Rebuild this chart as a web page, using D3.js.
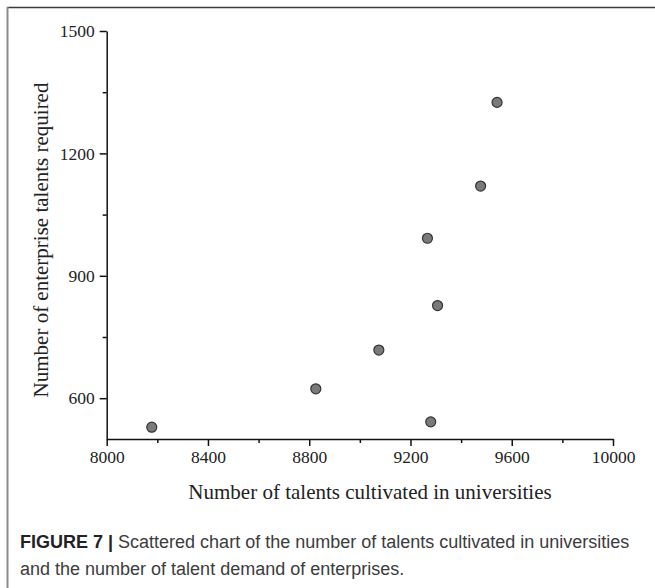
<!DOCTYPE html>
<html>
<head>
<meta charset="utf-8">
<script src="https://cdn.jsdelivr.net/npm/d3@7"></script>
<style>
  html, body { margin: 0; padding: 0; background: #fff; }
  svg { display: block; }
</style>
</head>
<body>
<svg id="chart" width="655" height="588"></svg>
<script>
// ---- data ----
const talentsCultivated = [8178, 8826, 9075, 9267, 9307, 9280, 9477, 9542];
const talentsRequired   = [529, 623, 718, 992, 827, 542, 1120, 1325];
const xTickValues = [8000, 8400, 8800, 9200, 9600, 10000];
const xMinorTicks = [8200, 8600, 9000, 9400, 9800];
const yTickValues = [600, 900, 1200, 1500];
const yMinorTicks = [750, 1050, 1350];
const xTitle = "Number of talents cultivated in universities";
const yTitle = "Number of enterprise talents required";
const captionBold = "FIGURE 7 |";
const captionLine1 = " Scattered chart of the number of talents cultivated in universities";
const captionLine2 = "and the number of talent demand of enterprises.";

const svg = d3.select("#chart");

// frame
svg.append("line").attr("x1", 7).attr("x2", 655).attr("y1", 7.5).attr("y2", 7.5)
  .attr("stroke", "#3a3a3a").attr("stroke-width", 1.5);
svg.append("line").attr("x1", 7.5).attr("x2", 7.5).attr("y1", 7).attr("y2", 588)
  .attr("stroke", "#8c8c8c").attr("stroke-width", 2);

const x = d3.scaleLinear().domain([8000, 10000]).range([106.7, 613]);
const y = d3.scaleLinear().domain([500, 1500]).range([439, 31]);

const serif = "'Liberation Serif', 'Times New Roman', serif";

// x axis
const gx = svg.append("g").attr("transform", `translate(0,${y(500)})`);
gx.call(d3.axisBottom(x).tickValues(xTickValues).tickSize(7).tickSizeOuter(0).tickPadding(5)
  .tickFormat(d3.format("d")));
const gxm = svg.append("g").attr("transform", `translate(0,${y(500)})`);
gxm.call(d3.axisBottom(x).tickValues(xMinorTicks).tickSize(4).tickSizeOuter(0).tickFormat(""));
gxm.select(".domain").remove();

// y axis
const gy = svg.append("g").attr("transform", `translate(${x(8000)},0)`);
gy.call(d3.axisLeft(y).tickValues(yTickValues).tickSize(7).tickSizeOuter(0).tickPadding(5)
  .tickFormat(d3.format("d")));
const gym = svg.append("g").attr("transform", `translate(${x(8000)},0)`);
gym.call(d3.axisLeft(y).tickValues(yMinorTicks).tickSize(4).tickSizeOuter(0).tickFormat(""));
gym.select(".domain").remove();

svg.selectAll(".domain, .tick line").attr("stroke", "#111").attr("stroke-width", 1.5);
svg.selectAll(".tick text").attr("font-family", serif).attr("font-size", 17.5).attr("fill", "#222");

// titles
svg.append("text").attr("x", 370).attr("y", 499).attr("text-anchor", "middle")
  .attr("font-family", serif).attr("font-size", 21).attr("fill", "#222").text(xTitle);
svg.append("text").attr("transform", `translate(48,240) rotate(-90)`).attr("text-anchor", "middle")
  .attr("font-family", serif).attr("font-size", 21).attr("fill", "#222").text(yTitle);

// points
const pts = talentsCultivated.map((v, i) => ({ x: v, y: talentsRequired[i] }));
svg.append("g").selectAll("circle").data(pts).join("circle")
  .attr("cx", d => x(d.x)).attr("cy", d => y(d.y)).attr("r", 5)
  .attr("fill", "#7a7a7a").attr("stroke", "#333").attr("stroke-width", 1.2);

// caption
const sans = "'Liberation Sans', Arial, Helvetica, sans-serif";
const cap1 = svg.append("text").attr("x", 20).attr("y", 548)
  .attr("font-family", sans).attr("font-size", 18).attr("fill", "#3c3c3c");
cap1.append("tspan").attr("font-weight", "bold").attr("fill", "#222").text(captionBold);
cap1.append("tspan").text(captionLine1);
svg.append("text").attr("x", 20).attr("y", 575)
  .attr("font-family", sans).attr("font-size", 18).attr("fill", "#3c3c3c").text(captionLine2);
</script>
</body>
</html>
